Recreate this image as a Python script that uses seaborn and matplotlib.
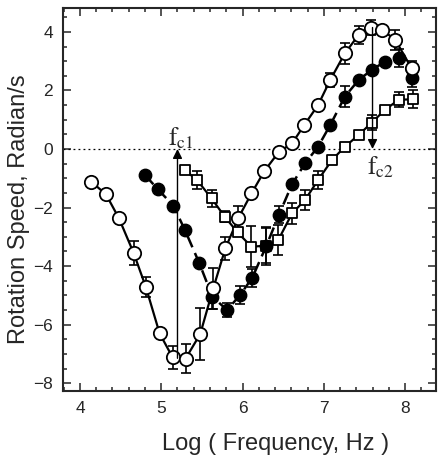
import seaborn as sns
import matplotlib.pyplot as plt
import pandas as pd

# open circles (solid line)
x_open = [4.14, 4.32, 4.48, 4.66, 4.81, 4.98, 5.14, 5.30, 5.48, 5.64, 5.79, 5.95, 6.11,
          6.27, 6.45, 6.61, 6.76, 6.93, 7.08, 7.26, 7.43, 7.58, 7.72, 7.88, 8.08]
y_open = [-1.12, -1.55, -2.37, -3.55, -4.71, -6.30, -7.12, -7.16, -6.32, -4.76, -3.39, -2.35, -1.52,
          -0.75, -0.09, 0.19, 0.82, 1.50, 2.36, 3.27, 3.90, 4.15, 4.07, 3.73, 2.76]
e_open = [0, 0, 0, 0.4, 0.35, 0, 0.4, 0.5, 0.9, 0.7, 0.4, 0.4, 0,
          0, 0, 0, 0, 0, 0.25, 0.35, 0.3, 0.25, 0, 0.35, 0.25]

# filled circles (dashed line)
x_fill = [4.80, 4.96, 5.15, 5.29, 5.47, 5.63, 5.81, 5.97, 6.12, 6.29, 6.45, 6.61,
          6.77, 6.93, 7.08, 7.26, 7.43, 7.59, 7.75, 7.92, 8.08]
y_fill = [-0.89, -1.38, -1.94, -2.76, -3.91, -5.05, -5.50, -4.99, -4.40, -3.33, -2.24, -1.20,
          -0.49, 0.08, 0.82, 1.79, 2.36, 2.70, 2.98, 3.10, 2.42]
e_fill = [0, 0, 0, 0, 0, 0.4, 0.25, 0.3, 0.3, 0.65, 0.3, 0,
          0, 0, 0, 0.35, 0, 0, 0, 0.3, 0.3]

# open squares (solid line)
x_sq = [5.29, 5.44, 5.62, 5.78, 5.94, 6.11, 6.29, 6.44, 6.61, 6.77, 6.93, 7.10,
        7.26, 7.43, 7.59, 7.75, 7.92, 8.10]
y_sq = [-0.72, -1.06, -1.69, -2.31, -2.85, -3.34, -3.30, -3.11, -2.20, -1.74, -1.06, -0.38,
        0.08, 0.48, 0.90, 1.33, 1.68, 1.70]
e_sq = [0, 0.3, 0.3, 0.2, 0, 0.7, 0.6, 0.5, 0.35, 0.35, 0.3, 0,
        0, 0, 0.25, 0, 0.25, 0.3]

sns.set_style("ticks")
plt.rcParams["font.family"] = ["Liberation Sans", "DejaVu Sans"]
plt.rcParams["mathtext.fontset"] = "stix"

fig = plt.figure(figsize=(4.43, 4.65), dpi=100)
ax = fig.add_axes([0.142, 0.159, 0.842, 0.824])

ax.axhline(0, color="black", lw=0.9, ls=(0, (1.5, 2.5)), zorder=1)

df_open = pd.DataFrame({"x": x_open, "y": y_open})
df_fill = pd.DataFrame({"x": x_fill, "y": y_fill})
df_sq = pd.DataFrame({"x": x_sq, "y": y_sq})

sns.lineplot(data=df_open, x="x", y="y", color="black", lw=1.6, ax=ax, zorder=2)
sns.lineplot(data=df_fill, x="x", y="y", color="black", lw=1.8, ax=ax, zorder=2,
             dashes=False, linestyle=(0, (5, 2.5)))
sns.lineplot(data=df_sq, x="x", y="y", color="black", lw=1.6, ax=ax, zorder=2)

for xs, ys, es in [(x_open, y_open, e_open), (x_fill, y_fill, e_fill), (x_sq, y_sq, e_sq)]:
    xx = [a for a, e in zip(xs, es) if e > 0]
    yy = [b for b, e in zip(ys, es) if e > 0]
    ee = [e for e in es if e > 0]
    ax.errorbar(xx, yy, yerr=ee, fmt="none", ecolor="black", elinewidth=1.2,
                capsize=3.5, capthick=1.2, zorder=3)

sns.scatterplot(data=df_sq, x="x", y="y", marker="s", s=62, facecolor="white",
                edgecolor="black", linewidth=1.3, ax=ax, zorder=4)
sns.scatterplot(data=df_fill, x="x", y="y", marker="o", s=80, color="black",
                edgecolor="black", linewidth=1.0, ax=ax, zorder=5)
sns.scatterplot(data=df_open, x="x", y="y", marker="o", s=92, facecolor="white",
                edgecolor="black", linewidth=1.3, ax=ax, zorder=6)

# critical frequency arrows
ax.annotate("", xy=(5.20, 0.0), xytext=(5.20, -7.15),
            arrowprops=dict(arrowstyle="-|>", color="black", lw=1.0,
                            mutation_scale=14, shrinkA=0, shrinkB=0), zorder=7)
ax.annotate("", xy=(7.60, 0.0), xytext=(7.60, 4.15),
            arrowprops=dict(arrowstyle="-|>", color="black", lw=1.0,
                            mutation_scale=14, shrinkA=0, shrinkB=0), zorder=7)
ax.text(5.24, 0.38, r"$\mathrm{f}_{\mathrm{c1}}$", fontsize=18, ha="center", va="center")
ax.text(7.70, -0.62, r"$\mathrm{f}_{\mathrm{c2}}$", fontsize=18, ha="center", va="center")

ax.set_xlim(3.79, 8.38)
ax.set_ylim(-8.27, 4.82)
ax.set_xticks([4, 5, 6, 7, 8])
ax.set_yticks([-8, -6, -4, -2, 0, 2, 4])
ax.set_xticks([v / 5 for v in range(19, 42)], minor=True)
ax.set_yticks([v / 2 for v in range(-16, 10)], minor=True)
ax.tick_params(which="both", direction="in", top=True, right=True, width=1.1)
ax.tick_params(which="major", length=6, labelsize=12.5, pad=7)
ax.tick_params(which="minor", length=3)
for s in ax.spines.values():
    s.set_linewidth(1.5)

ax.set_xlabel("Log ( Frequency, Hz )", fontsize=17)
ax.set_ylabel("Rotation Speed, Radian/s", fontsize=17)
ax.xaxis.set_label_coords(0.571, -0.11)
ax.yaxis.set_label_coords(-0.088, 0.475)

fig.savefig("out.png", dpi=100)
